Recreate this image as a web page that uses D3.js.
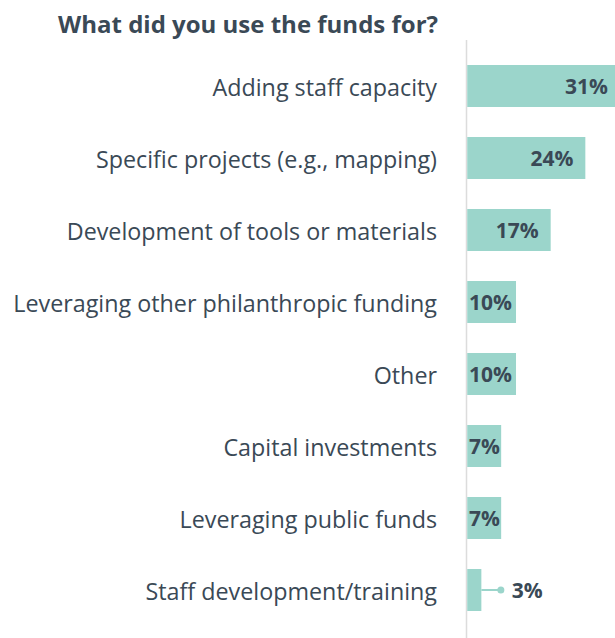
<!DOCTYPE html>
<html>
<head>
<meta charset="utf-8">
<script src="https://cdn.jsdelivr.net/npm/d3@7"></script>
<style>
  html, body { margin: 0; padding: 0; background: #ffffff; }
  svg { display: block; font-family: "Open Sans", Lato, sans-serif; }
</style>
</head>
<body>
<svg id="chart" width="615" height="638"></svg>
<script>
// Survey answers: what the funds were used for (% of respondents)
const categories = [
  "Adding staff capacity",
  "Specific projects (e.g., mapping)",
  "Development of tools or materials",
  "Leveraging other philanthropic funding",
  "Other",
  "Capital investments",
  "Leveraging public funds",
  "Staff development/training"
];
const values = [31, 24, 17, 10, 10, 7, 7, 3];
const valueLabels = ["31%", "24%", "17%", "10%", "10%", "7%", "7%", "3%"];
const title = "What did you use the funds for?";

const data = categories.map((c, i) => ({ cat: c, value: values[i], label: valueLabels[i] }));

const svg = d3.select("#chart");
const textColor = "#3a4956";
const barColor = "#9bd5cb";

const x = d3.scaleLinear().domain([0, 31]).range([466.5, 620]);
const y = d3.scaleBand()
  .domain(categories)
  .range([65, 611])
  .paddingInner(0.4167)
  .paddingOuter(0);

// Title
svg.append("text")
  .attr("x", 58)
  .attr("y", 33)
  .attr("fill", textColor)
  .attr("font-size", 24)
  .attr("font-weight", 700)
  .text(title);

// Baseline axis
svg.append("line")
  .attr("x1", x(0)).attr("x2", x(0))
  .attr("y1", 40).attr("y2", 638)
  .attr("stroke", "#dcdcdc")
  .attr("stroke-width", 1.5);

// Category labels
svg.append("g")
  .selectAll("text")
  .data(data)
  .join("text")
  .attr("x", 437)
  .attr("y", d => y(d.cat) + y.bandwidth() / 2)
  .attr("dy", "0.41em")
  .attr("text-anchor", "end")
  .attr("fill", textColor)
  .attr("font-size", 23.3)
  .attr("font-weight", 500)
  .text(d => d.cat);

// Bars
svg.append("g")
  .selectAll("rect")
  .data(data)
  .join("rect")
  .attr("x", x(0) + 0.75)
  .attr("y", d => y(d.cat))
  .attr("width", d => x(d.value) - x(0) - 0.75)
  .attr("height", y.bandwidth())
  .attr("fill", barColor);

// Value labels: inside at the bar end, inside at the start for short bars,
// and outside with a leader for the smallest bar
const labels = svg.append("g");
data.forEach(d => {
  const cy = y(d.cat) + y.bandwidth() / 2;
  const w = x(d.value) - x(0);
  const t = labels.append("text")
    .attr("y", cy)
    .attr("dy", "0.37em")
    .attr("fill", textColor)
    .attr("font-size", 21)
    .attr("font-weight", 700)
    .text(d.label);
  const tw = t.node().getComputedTextLength();
  if (w >= tw + 24) {
    t.attr("x", x(d.value) - 12).attr("text-anchor", "end");
  } else if (w >= tw) {
    t.attr("x", x(0) + 2.5).attr("text-anchor", "start");
  } else {
    const dotX = x(d.value) + 19.5;
    labels.append("line")
      .attr("x1", x(d.value)).attr("x2", dotX)
      .attr("y1", cy).attr("y2", cy)
      .attr("stroke", barColor)
      .attr("stroke-width", 2);
    labels.append("circle")
      .attr("cx", dotX).attr("cy", cy).attr("r", 3.5)
      .attr("fill", barColor);
    t.attr("x", dotX + 11).attr("text-anchor", "start");
  }
});
</script>
</body>
</html>
